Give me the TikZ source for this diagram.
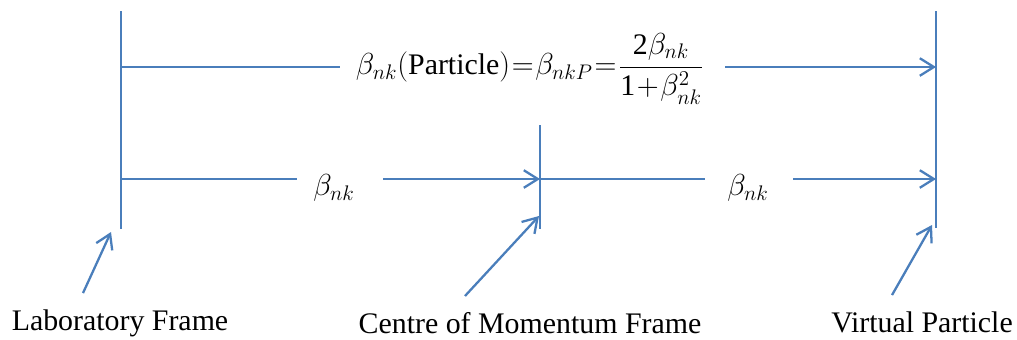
\documentclass[tikz,border=0pt]{standalone}
\usepackage{amsmath}
\usepackage{fontspec}
\setmainfont{Liberation Serif}
\usetikzlibrary{arrows.meta}

\definecolor{frameblue}{RGB}{74,126,187}

\tikzset{
  frameline/.style={draw=frameblue, line width=1.3pt},
  velarrow/.style={frameline, -{Straight Barb[length=8pt,width=10pt,line width=1.3pt]}},
  framelabel/.style={inner sep=0pt, font=\fontsize{17}{20}\selectfont},
  vellabel/.style={inner sep=0pt, font=\fontsize{17}{20}\selectfont}
}

\begin{document}
\begin{tikzpicture}[x=0.02cm,y=-0.02cm]
    \path[use as bounding box] (0,0) rectangle (1017,339);

    % Frames
    \coordinate (labtop) at (121,11);
    \coordinate (labbot) at (121,229);
    \coordinate (comtop) at (540,125);
    \coordinate (combot) at (540,229);
    \coordinate (vptop) at (936,11);
    \coordinate (vpbot) at (936,228);
    \draw[frameline] (labtop) -- (labbot);
    \draw[frameline] (comtop) -- (combot);
    \draw[frameline] (vptop) -- (vpbot);

    % Velocities
    \coordinate (labhi) at (121,67);
    \coordinate (vphi) at (936,67);
    \coordinate (labmid) at (121,179);
    \coordinate (commid) at (540,179);
    \coordinate (vpmid) at (936,179);

    \node[vellabel] (ptop) at (530,69)
        {\thickmuskip=1mu \medmuskip=1mu
         $\beta_{nk}(\textrm{Particle})=\beta_{nkP}=\dfrac{\textrm{2}\beta_{nk}}{\textrm{1}+\beta_{nk}^{2}}$};
    \node[vellabel] (plow) at (334,188) {$\beta_{nk}$};
    \node[vellabel] (prlow) at (748,188) {$\beta_{nk}$};

    \draw[frameline] (labhi) -- (labhi -| 340,0);
    \draw[velarrow] (vphi -| 725,0) -- (vphi);
    \draw[frameline] (labmid) -- (labmid -| 297,0);
    \draw[velarrow] (commid -| 383,0) -- (commid);
    \draw[frameline] (commid) -- (commid -| 705,0);
    \draw[velarrow] (vpmid -| 793,0) -- (vpmid);

    % Frame names
    \node[framelabel] (lab) at (120,323) {Laboratory Frame};
    \node[framelabel] (com) at (530,323) {Centre of Momentum Frame};
    \node[framelabel] (vp) at (922,322) {Virtual Particle};

    \coordinate (labtip) at (111,232);
    \coordinate (comtip) at (539,216);
    \coordinate (vptip) at (932,225);
    \draw[velarrow] ([shift={(-37,-16)}]lab.north) -- (labtip);
    \draw[velarrow] ([shift={(-65,-16)}]com.north) -- (comtip);
    \draw[velarrow] ([shift={(-30,-16)}]vp.north) -- (vptip);
\end{tikzpicture}
\end{document}
